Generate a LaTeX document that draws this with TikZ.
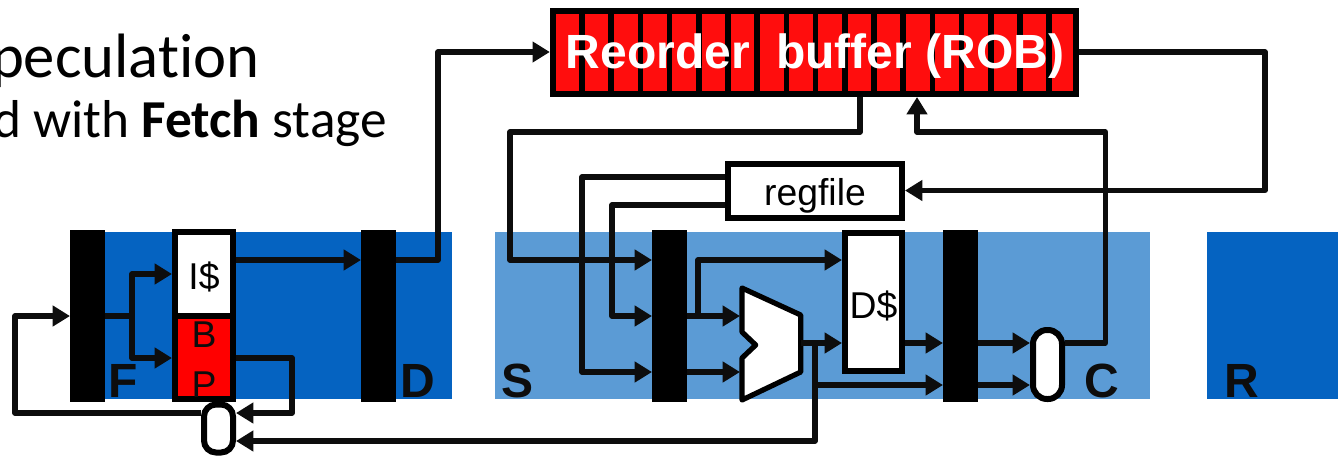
\documentclass[tikz,border=0pt]{standalone}
\usepackage{fontspec}
\setmainfont{Liberation Sans}
\newfontfamily\calfont[Ligatures=NoCommon]{Carlito}
\usetikzlibrary{arrows.meta}
\definecolor{bluedark}{HTML}{0563C1}
\definecolor{bluelight}{HTML}{5B9BD5}
\definecolor{robred}{HTML}{FF0D0D}
\definecolor{ink}{HTML}{0D0D0D}
\newcommand{\fs}[1]{\fontsize{#1}{#1}\selectfont}
\tikzset{
  stageband/.style={draw=none,fill=#1,anchor=north west,inner sep=0pt,outer sep=0pt},
  latch/.style={draw=none,fill=black,anchor=center,inner sep=0pt,outer sep=0pt,minimum width=26.25pt,minimum height=129.4pt},
  unitbox/.style={draw=black,line width=4.5pt,anchor=center,inner sep=0pt,minimum width=#1},
  muxbox/.style={draw=black,fill=white,line width=4.5pt,anchor=center,inner sep=0pt,minimum width=21.75pt},
  conn/.style={draw=ink,line width=4pt,line join=round,line cap=butt},
  arr/.style={conn,-{Triangle[length=13pt,width=15pt]}},
  stagelabel/.style={anchor=base,inner sep=0pt,text=ink,font=\fs{36}\bfseries},
  unitlabel/.style={anchor=center,inner sep=0pt,font=\fs{28}},
  title/.style={anchor=base east,inner sep=0pt,text=black}
}
\begin{document}
\begin{tikzpicture}[x=0.75pt,y=-0.75pt]
\useasboundingbox (0,0) rectangle (1339,455);
\clip (0,0) rectangle (1339,455);
% title fragments
\node[title,font=\calfont\fs{47}] (t1) at (260,77) {peculat\kern0pt ion};
\node[title,font=\calfont\fs{40}] (t2) at (387,137) {d with \textbf{Fetch} stage};
% stage bands
\node[stageband=bluedark,minimum width=260.25pt,minimum height=125.25pt] (bandF) at (105,232) {};
\node[stageband=bluelight,minimum width=491.25pt,minimum height=125.25pt] (bandS) at (495,232) {};
\node[stageband=bluedark,minimum width=98.25pt,minimum height=125.25pt] (bandR) at (1207,232) {};
% latches
\node[latch] (latF) at (87.5,316) {};
\node[latch] (latD) at (378.5,316) {};
\node[latch] (latS) at (669.5,316) {};
\node[latch] (latC) at (960.5,316) {};
% fetch units
\node[unitbox=43.5pt,fill=white,minimum height=63pt] (icache) at (204,274) {};
\node[unitbox=43.5pt,fill=red,minimum height=62.25pt] (bp) at (204,357.5) {};
\node[muxbox,minimum height=36pt,rounded corners=9pt] (muxF) at (218.5,428.5) {};
\node[unitlabel] (icachet) at (204,277) {I\$};
\node[anchor=base,inner sep=0pt,font=\fs{28},text=ink] (bpB) at (204,347) {B};
\node[anchor=base,inner sep=0pt,font=\fs{28},text=ink] (bpP) at (204,397) {P};
% ROB
\node[draw=black,fill=robred,line width=4.5pt,anchor=center,inner sep=0pt,minimum width=392.5pt,minimum height=62.25pt] (rob) at (814.5,52.5) {};
\foreach \i in {0,...,16}
  \draw[black,line width=4.2pt] ({582+\i*29.2},11) -- ({582+\i*29.2},94);
\node[anchor=center,inner sep=0pt,text=white,font=\fs{36}\bfseries] (robt) at (815,56) {Reorder\ \ buffer (ROB)};
% regfile, D$, ALU, mux
\node[unitbox=130.5pt,fill=white,minimum height=40.5pt] (reg) at (815,191) {};
\node[unitlabel] (regt) at (815,196) {regfile};
\node[unitbox=42.75pt,fill=white,minimum height=103.5pt] (dcache) at (873.5,302) {};
\node[unitlabel] (dcachet) at (873.5,306) {D\$};
\draw[draw=black,fill=white,line width=3.9pt,line join=round]
  (742,288) -- (800.7,315) -- (800.7,372) -- (742,400) -- (742,358) -- (755.7,345) -- (742,332) -- cycle;
\coordinate (aluA) at (740,316);
\coordinate (aluB) at (740,372);
\coordinate (aluO) at (801,343);
\node[muxbox,minimum height=51.75pt,rounded corners=10.5pt] (muxC) at (1047.5,364.5) {};
% stage letters
\node[stagelabel] (lblF) at (123,397) {F};
\node[stagelabel] (lblD) at (418,397) {D};
\node[stagelabel] (lblS) at (518,397) {S};
\node[stagelabel] (lblC) at (1102,397) {C};
\node[stagelabel] (lblR) at (1242,397) {R};
% routing points
\coordinate (fSplitU) at (132,274);
\coordinate (fSplitD) at (132,358);
\coordinate (fSplit) at (132,316);
\coordinate (bpOutA) at (292,358);
\coordinate (bpOutB) at (292,413);
\coordinate (fbA) at (15,413);
\coordinate (fbB) at (15,316);
\coordinate (dUp) at (438,260);
\coordinate (dTop) at (438,52);
\coordinate (robRight) at (1265,52);
\coordinate (robRightD) at (1265,190.5);
\coordinate (robOutA) at (860,132);
\coordinate (robOutB) at (510,132);
\coordinate (robOutC) at (510,260);
\coordinate (regA) at (582,177);
\coordinate (regAd) at (582,372);
\coordinate (regB) at (612,205);
\coordinate (regBd) at (612,316);
\coordinate (sBr) at (698,316);
\coordinate (sBrU) at (698,260);
\coordinate (aluBr) at (815,343);
\coordinate (aluBrM) at (815,385);
\coordinate (aluBrD) at (815,441);
\coordinate (cOut) at (1105.5,343);
\coordinate (cOutU) at (1105.5,132);
\coordinate (robIn) at (917,132);
% connectors: fetch
\draw[conn] (latF.east |- fSplit) -- (fSplit);
\draw[arr] (fSplit) -- (fSplitU) -- (icache.west |- fSplitU);
\draw[arr] (fSplit) -- (fSplitD) -- (bp.west |- fSplitD);
\draw[arr] (bp.east |- bpOutA) -- (bpOutA) -- (bpOutB) -- (muxF.east |- bpOutB);
\draw[arr] (muxF.west |- fbA) -- (fbA) -- (fbB) -- (latF.west |- fbB);
\draw[arr] (aluBr) -- (aluBrD) -- (muxF.east |- aluBrD);
\draw[arr] (icache.east |- dUp) -- (latD.west |- dUp);
\draw[arr] (latD.east |- dUp) -- (dUp) -- (dTop) -- (rob.west |- dTop);
% connectors: ROB
\draw[arr] (rob.east |- robRight) -- (robRight) -- (robRightD) -- (reg.east |- robRightD);
\draw[arr] (rob.south -| robOutA) -- (robOutA) -- (robOutB) -- (robOutC) -- (latS.west |- robOutC);
\draw[arr] (reg.west |- regA) -- (regA) -- (regAd) -- (latS.west |- regAd);
\draw[arr] (reg.west |- regB) -- (regB) -- (regBd) -- (latS.west |- regBd);
% connectors: execute
\draw[arr] (latS.east |- aluA) -- (aluA);
\draw[arr] (latS.east |- aluB) -- (aluB);
\draw[arr] (sBr) -- (sBrU) -- (dcache.west |- sBrU);
\draw[arr] (aluO) -- (dcache.west |- aluO);
\draw[arr] (aluBrM) -- (latC.west |- aluBrM);
\draw[arr] (dcache.east |- aluO) -- (latC.west |- aluO);
\draw[arr] (latC.east |- aluO) -- (muxC.west |- aluO);
\draw[arr] (latC.east |- aluBrM) -- (muxC.west |- aluBrM);
\draw[arr] (muxC.east |- cOut) -- (cOut) -- (cOutU) -- (robIn) -- (rob.south -| robIn);
\end{tikzpicture}
\end{document}
